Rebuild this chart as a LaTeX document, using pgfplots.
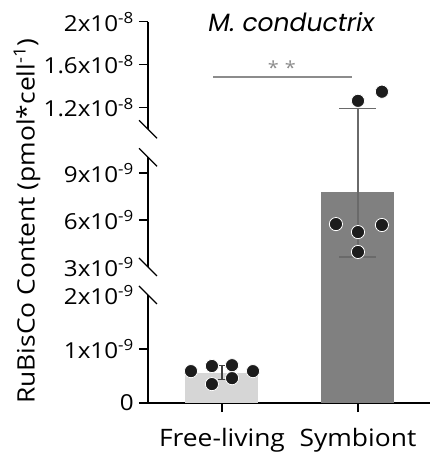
\documentclass[border=0pt]{standalone}
\usepackage{pgfplots}
\pgfplotsset{compat=1.18}
\usepackage{fontspec}
\setmainfont{Open Sans}[FakeStretch=1.1]
\newfontfamily\titlefont{Poppins}
\definecolor{lightbar}{HTML}{D6D6D6}
\definecolor{darkbar}{HTML}{808080}
\definecolor{dot}{HTML}{1C1C1C}
\definecolor{errg}{HTML}{6A6A6A}
\definecolor{errd}{HTML}{404040}
\definecolor{sig}{HTML}{8C8C8C}
\begin{document}
\begin{tikzpicture}
\begin{axis}[
  x=136bp, y=1bp,
  xmin=-0.544, xmax=1.53, ymin=0, ymax=20,
  y coord trafo/.code={\pgfmathparse{(#1<=2) ? (54*#1) : ((#1<3) ? (108+28*(#1-2)) : ((#1<=10) ? (136+15.6667*(#1-3)) : (273.67+10.75*(#1-10))))}},
  clip=false,
  axis x line=bottom, axis y line=left,
  x axis line style={-, line width=1.2bp, black},
  y axis line style={draw=none},
  tick align=outside,
  major tick length=9bp,
  tick style={line width=1.2bp, black},
  xtick={0,1}, xticklabels={Free-living,Symbiont},
  ytick={0,1,6,9,12,16,20},
  yticklabels={0,1x10\textsuperscript{-9},6x10\textsuperscript{-9},9x10\textsuperscript{-9},1.2x10\textsuperscript{-8},1.6x10\textsuperscript{-8},2x10\textsuperscript{-8}},
  extra y ticks={2,3},
  extra y tick labels={2x10\textsuperscript{-9},3x10\textsuperscript{-9}},
  extra y tick style={tick style={draw=none}},
  yticklabel style={font=\fontsize{22bp}{24bp}\selectfont, inner sep=2bp, xshift=-3bp},
  xticklabel style={font=\fontsize{24bp}{28bp}\selectfont, yshift=-13bp},
  ylabel={RuBisCo Content (pmol*cell\textsuperscript{-1})},
  every axis y label/.style={at={([xshift=-121bp,yshift=-9bp]axis description cs:0,0.5)}, anchor=center, rotate=90, font=\fontsize{24bp}{26bp}\selectfont},
]
% bars (values in units of 1e-9 pmol/cell)
\addplot[ybar, bar width=73bp, bar shift=0pt, fill=lightbar, draw=none] coordinates {(0,0.5625)};
\addplot[ybar, bar width=73bp, bar shift=0pt, fill=darkbar, draw=none] coordinates {(1,7.79)};
% error bars (mean +/- SD)
\addplot[errd, line width=1.2bp] coordinates {(0,0.43) (0,0.70)};
\addplot[errd, line width=1.2bp] coordinates {(-0.03,0.43) (0.03,0.43)};
\addplot[errd, line width=1.2bp] coordinates {(-0.03,0.70) (0.03,0.70)};
\addplot[errg, line width=1.5bp] coordinates {(1,3.64) (1,11.94)};
\addplot[errg, line width=1.5bp] coordinates {(0.864,3.64) (1.136,3.64)};
\addplot[errg, line width=1.5bp] coordinates {(0.864,11.94) (1.136,11.94)};
% individual points
\addplot[only marks, mark=*, mark size=6.6bp, mark options={fill=dot, draw=white, line width=0.8bp}] table[row sep=\\] {
x y\\
-0.228 0.59\\
-0.074 0.685\\
-0.074 0.35\\
0.074 0.70\\
0.074 0.46\\
0.228 0.59\\
0.838 5.74\\
1.0 5.23\\
1.176 5.68\\
1.0 3.96\\
1.0 12.65\\
1.176 13.5\\
};
% significance bar
\addplot[sig, line width=1.3bp] coordinates {(-0.066,14.88) (0.956,14.88)};
\node[text=sig, font=\fontsize{18bp}{20bp}\selectfont, yshift=-4bp] at (axis cs:0.44,16.09) {*\,\,*};
% title
\node[font=\titlefont\itshape\fontsize{25bp}{28bp}\selectfont] at (axis cs:0.51,20) {M. conductrix};
% broken y axis
\draw[line width=1.2bp] (axis cs:-0.544,0) -- (axis cs:-0.544,2);
\draw[line width=1.2bp] (axis cs:-0.544,3) -- (axis cs:-0.544,10);
\draw[line width=1.2bp] (axis cs:-0.544,10.001) -- (axis cs:-0.544,20);
\draw[line width=1.2bp] ([shift={(-9bp,9bp)}]axis cs:-0.544,2) -- ([shift={(9bp,-9bp)}]axis cs:-0.544,2);
\draw[line width=1.2bp] ([shift={(-9bp,9bp)}]axis cs:-0.544,3) -- ([shift={(9bp,-9bp)}]axis cs:-0.544,3);
\draw[line width=1.2bp] ([shift={(-9bp,9bp)}]axis cs:-0.544,10) -- ([shift={(9bp,-9bp)}]axis cs:-0.544,10);
\draw[line width=1.2bp] ([shift={(-9bp,9bp)}]axis cs:-0.544,10.001) -- ([shift={(9bp,-9bp)}]axis cs:-0.544,10.001);
\end{axis}
\pgfresetboundingbox
\path (-148bp,-57bp) rectangle (282bp,403bp);
\end{tikzpicture}
\end{document}
